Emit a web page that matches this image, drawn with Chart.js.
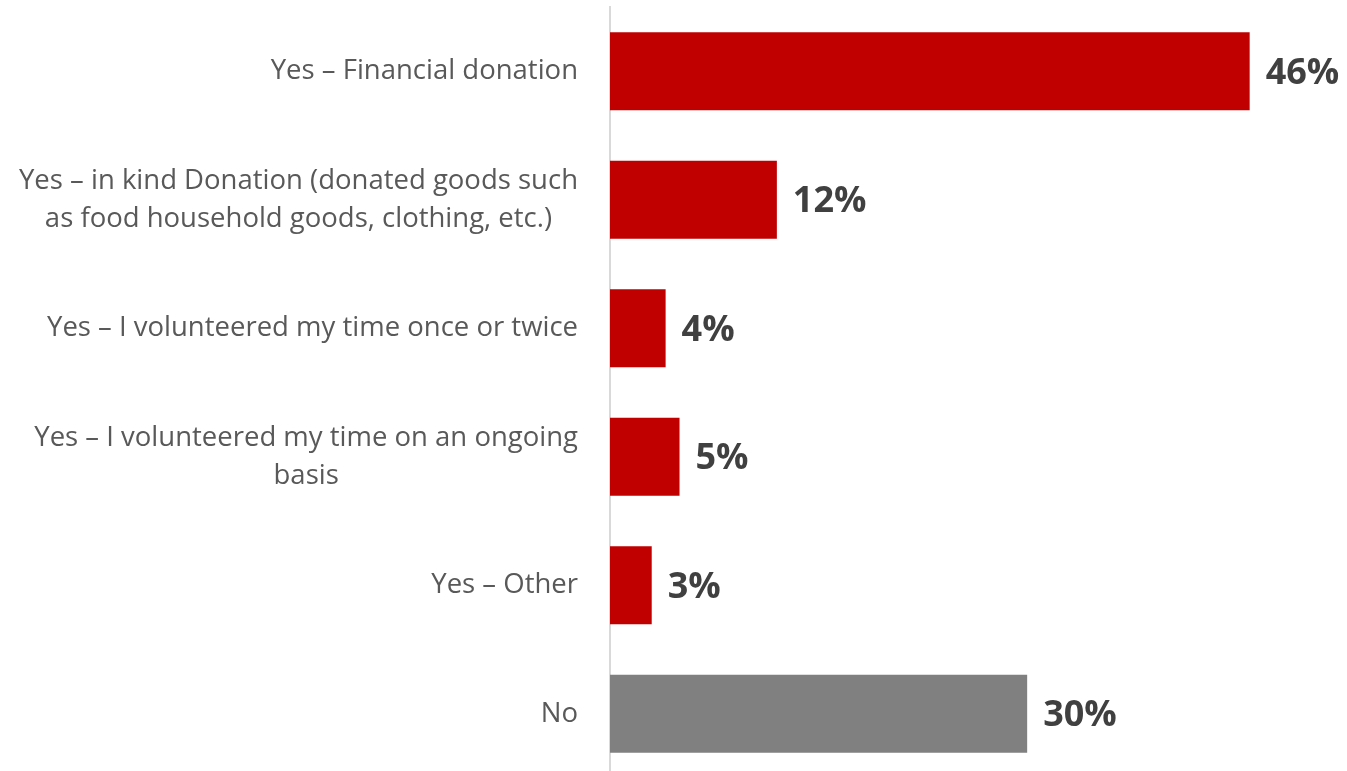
<!DOCTYPE html>
<html>
<head>
    <title>Donation Types</title>
    <script src="https://cdn.jsdelivr.net/npm/chart.js"></script>
    <style>
        html, body { margin: 0; padding: 0; background: #fff; overflow: hidden; }
        #wrap { width: 1347px; height: 778px; position: relative; }
    </style>
</head>
<body>
    <div id="wrap"><canvas id="donationChart"></canvas></div>

    <script>
        const categories = [
            ['Yes \u2013 Financial donation'],
            ['Yes \u2013 in kind Donation (donated goods such', 'as food household goods, clothing, etc.)'],
            ['Yes \u2013 I volunteered my time once or twice'],
            ['Yes \u2013 I volunteered my time on an ongoing', 'basis'],
            ['Yes \u2013 Other'],
            ['No']
        ];
        const percentages = [46, 12, 4, 5, 3, 30];
        const barColors = ['#C00000', '#C00000', '#C00000', '#C00000', '#C00000', '#808080'];

        const LABEL_RIGHT = 578;
        const LINE_HEIGHT = 38;

        // category names: block is right-aligned to the axis, lines centred inside the block
        const categoryLabels = {
            id: 'categoryLabels',
            afterDraw(chart) {
                const ctx = chart.ctx;
                const yScale = chart.scales.y;
                ctx.save();
                ctx.font = '27.5px "Open Sans"';
                ctx.fillStyle = '#595959';
                ctx.textAlign = 'center';
                ctx.textBaseline = 'middle';
                categories.forEach((lines, i) => {
                    const y = yScale.getPixelForValue(i);
                    const widest = Math.max(...lines.map(l => ctx.measureText(l).width));
                    const cx = LABEL_RIGHT - widest / 2;
                    const top = y - (lines.length - 1) * LINE_HEIGHT / 2;
                    lines.forEach((line, j) => ctx.fillText(line, cx, top + j * LINE_HEIGHT));
                });
                ctx.restore();
            }
        };

        // percentage just past the end of each bar
        const valueLabels = {
            id: 'valueLabels',
            afterDatasetsDraw(chart) {
                const ctx = chart.ctx;
                const meta = chart.getDatasetMeta(0);
                ctx.save();
                ctx.font = 'bold 36px "Open Sans"';
                ctx.fillStyle = '#404040';
                ctx.textAlign = 'left';
                ctx.textBaseline = 'middle';
                meta.data.forEach((bar, i) => {
                    ctx.fillText(percentages[i] + '%', bar.x + 16, bar.y + 2);
                });
                ctx.restore();
            }
        };

        const ctx = document.getElementById('donationChart').getContext('2d');
        new Chart(ctx, {
            type: 'bar',
            data: {
                labels: categories.map(l => l.join(' ')),
                datasets: [{
                    data: percentages,
                    backgroundColor: barColors,
                    borderWidth: 0,
                    categoryPercentage: 1,
                    barPercentage: 0.607
                }]
            },
            options: {
                indexAxis: 'y',
                responsive: true,
                maintainAspectRatio: false,
                animation: false,
                layout: { padding: { top: 7, bottom: 0, left: 0, right: 0 } },
                plugins: {
                    legend: { display: false },
                    tooltip: { enabled: false }
                },
                scales: {
                    x: {
                        display: false,
                        min: 0,
                        max: 53
                    },
                    y: {
                        afterFit(scale) {
                            scale.width = 610;
                            scale.paddingTop = 0;
                            scale.paddingBottom = 0;
                        },
                        grid: { display: false, drawTicks: false },
                        border: { display: true, color: '#D9D9D9', width: 2 },
                        ticks: { display: false }
                    }
                }
            },
            plugins: [valueLabels, categoryLabels]
        });
    </script>
</body>
</html>
